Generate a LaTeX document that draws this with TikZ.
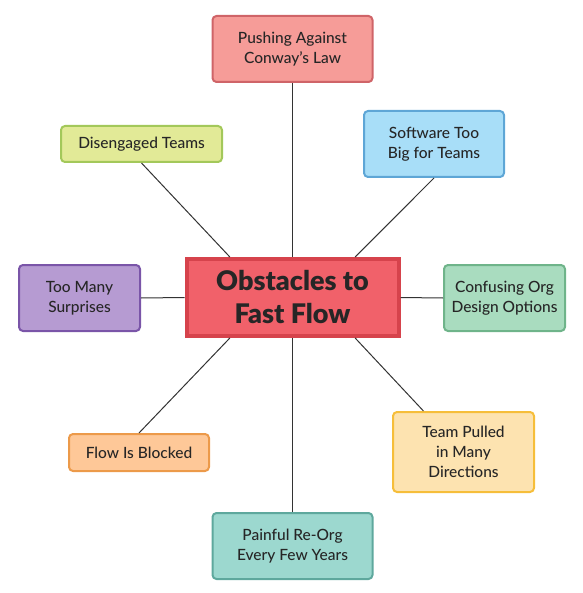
\documentclass[tikz,border=0pt]{standalone}
\usepackage{fontspec}
\setmainfont{Lato}
\newfontfamily\medfont{Lato Medium}
\newfontfamily\blackfont{Lato Black}
\usetikzlibrary{calc}
\definecolor{txt}{HTML}{262626}
\definecolor{lnk}{HTML}{333333}
\definecolor{cF}{HTML}{F1616A}\definecolor{cB}{HTML}{D6434C}
\definecolor{pF}{HTML}{F69C98}\definecolor{pB}{HTML}{CF6468}
\definecolor{dF}{HTML}{E2EA97}\definecolor{dB}{HTML}{A3C85A}
\definecolor{sF}{HTML}{A8DEF8}\definecolor{sB}{HTML}{5EA6D6}
\definecolor{mF}{HTML}{B69BD2}\definecolor{mB}{HTML}{7A55A8}
\definecolor{oF}{HTML}{A9DCBF}\definecolor{oB}{HTML}{6FB48A}
\definecolor{fF}{HTML}{FEC898}\definecolor{fB}{HTML}{EC9A4A}
\definecolor{tF}{HTML}{FDE3B0}\definecolor{tB}{HTML}{F6BE3A}
\definecolor{rF}{HTML}{9CD8CF}\definecolor{rB}{HTML}{5EA89D}
\tikzset{
  box/.style={draw, line width=2pt, rounded corners=4pt, align=center, text=txt,
    inner sep=0pt, font=\medfont\fontsize{15.5}{20}\selectfont},
  link/.style={draw=lnk, line width=1pt},
}
\begin{document}
\begin{tikzpicture}[x=1pt,y=-1pt]
\useasboundingbox (0,0) rectangle (582,593);
\node[box, fill=pF, draw=pB, minimum width=160pt, minimum height=66pt] (p) at (292.5,49) {Pushing Against\\Conway’s Law};
\node[box, fill=dF, draw=dB, minimum width=161pt, minimum height=36pt] (d) at (141.5,144) {Disengaged Teams};
\node[box, fill=sF, draw=sB, minimum width=140pt, minimum height=66pt] (s) at (434,144) {Software Too\\Big for Teams};
\node[box, fill=mF, draw=mB, minimum width=121pt, minimum height=66pt] (m) at (79.5,298) {Too Many\\Surprises};
\node[box, fill=oF, draw=oB, minimum width=121pt, minimum height=66pt] (o) at (504.5,298) {Confusing Org\\Design Options};
\node[box, fill=fF, draw=fB, minimum width=140pt, minimum height=37pt] (f) at (139,452.5) {Flow Is Blocked};
\node[box, fill=tF, draw=tB, minimum width=141pt, minimum height=80pt] (t) at (463.5,452) {Team Pulled\\in Many\\Directions};
\node[box, fill=rF, draw=rB, minimum width=160pt, minimum height=66pt] (r) at (292.5,546) {Painful Re-Org\\Every Few Years};
\node[draw=cB, fill=cF, line width=4pt, minimum width=212pt, minimum height=77pt, inner sep=0pt,
  align=center, text=txt, font=\blackfont\fontsize{27}{33}\selectfont] (c) at (292.5,297.5) {Obstacles to\\Fast Flow};
\draw[link] (p.south) -- (c.north);
\draw[link] (r.north) -- (c.south);
\draw[link] (m.east) -- (c.west);
\draw[link] (o.west) -- (c.east);
\draw[link] (d.south) -- ($(c.north west)!0.21!(c.north east)$);
\draw[link] (s.south) -- ($(c.north west)!0.79!(c.north east)$);
\draw[link] (f.north) -- ($(c.south west)!0.21!(c.south east)$);
\draw[link] ($(t.north west)!0.22!(t.north east)$) -- ($(c.south west)!0.79!(c.south east)$);
\end{tikzpicture}
\end{document}
